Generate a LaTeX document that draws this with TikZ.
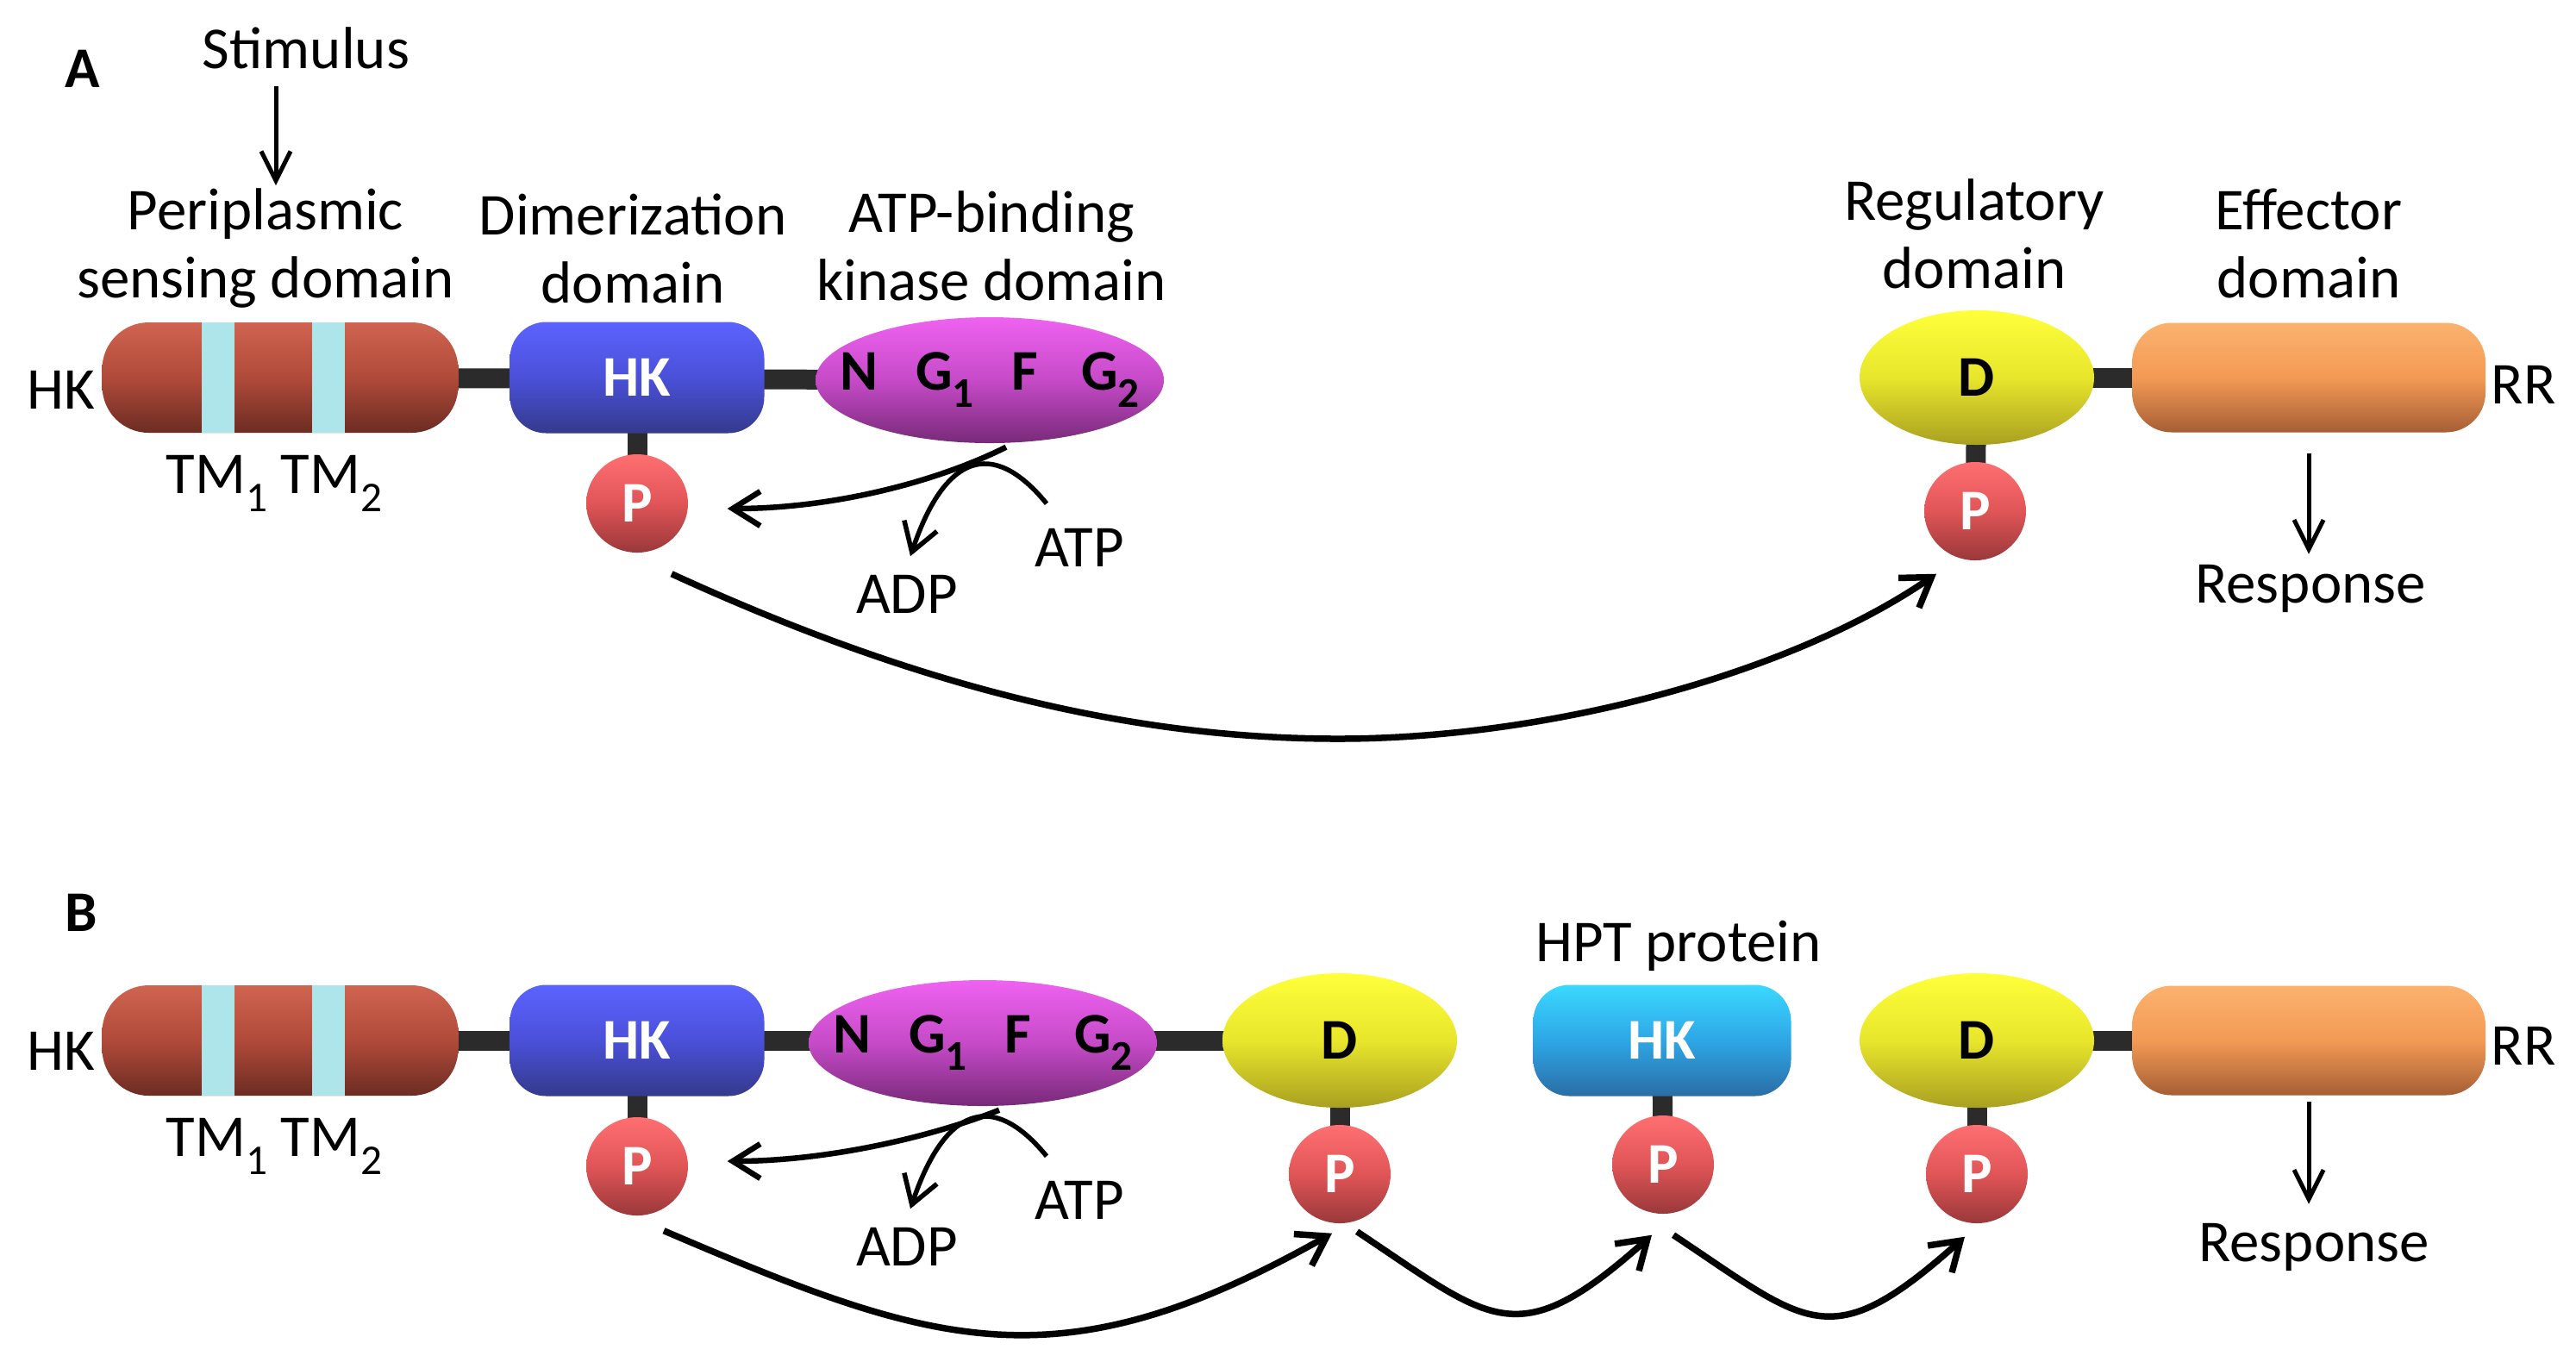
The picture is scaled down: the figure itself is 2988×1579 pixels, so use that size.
\documentclass[tikz,border=0pt]{standalone}
\usepackage{fontspec}
\setmainfont{Carlito}
\usetikzlibrary{arrows.meta,shapes.geometric,backgrounds}

\definecolor{brownTop}{HTML}{CF6450}
\definecolor{brownMid}{HTML}{B04A3A}
\definecolor{brownBot}{HTML}{6C2C22}
\definecolor{blueTop}{HTML}{5C63FF}
\definecolor{blueMid}{HTML}{4A50D8}
\definecolor{blueBot}{HTML}{343A8C}
\definecolor{purpleTop}{HTML}{EE62F0}
\definecolor{purpleMid}{HTML}{C64AC8}
\definecolor{purpleBot}{HTML}{772A78}
\definecolor{yellowTop}{HTML}{FFFF3A}
\definecolor{yellowMid}{HTML}{E8E62C}
\definecolor{yellowBot}{HTML}{A9A020}
\definecolor{orangeTop}{HTML}{FBB26E}
\definecolor{orangeMid}{HTML}{F39A55}
\definecolor{orangeBot}{HTML}{A65E34}
\definecolor{cyanTop}{HTML}{3BD8FF}
\definecolor{cyanMid}{HTML}{2EA6E6}
\definecolor{cyanBot}{HTML}{2A6EA6}
\definecolor{redTop}{HTML}{FF6F72}
\definecolor{redMid}{HTML}{E05557}
\definecolor{redBot}{HTML}{9A383A}
\definecolor{tmcyan}{HTML}{ADE5EA}
\definecolor{linkgray}{HTML}{2B2B2B}

\newcommand{\subidx}[1]{\raisebox{-0.3em}{\fontsize{14}{14}\selectfont #1}}
\newcommand{\motifs}{\makebox[0pt]{N\hspace{4.4mm}G\subidx{1}\hspace{4.4mm}F\hspace{5mm}G\subidx{2}}}

\begin{document}
\begin{tikzpicture}[x=0.1mm,y=-0.1mm,
  lbl/.style={font=\fontsize{19.6}{22.5}\selectfont,align=center,inner sep=0pt},
  tag/.style={font=\fontsize{19}{21}\selectfont\bfseries,inner sep=0pt},
  capsule/.style={rectangle,rounded corners=#1,inner sep=0pt,tag},
  sensor/.style={capsule=5.4mm,minimum width=41.3mm,minimum height=12.8mm,top color=brownTop,bottom color=brownBot,middle color=brownMid},
  dimer/.style={capsule=4.2mm,minimum width=29.5mm,minimum height=12.9mm,top color=blueTop,bottom color=blueBot,middle color=blueMid,text=white},
  kinase/.style={ellipse,minimum width=40.4mm,minimum height=14.6mm,inner sep=0pt,tag,top color=purpleTop,bottom color=purpleBot,middle color=purpleMid},
  receiver/.style={ellipse,minimum width=27.2mm,minimum height=15.6mm,inner sep=0pt,tag,top color=yellowTop,bottom color=yellowBot,middle color=yellowMid},
  effector/.style={capsule=4.6mm,minimum width=41mm,minimum height=12.7mm,top color=orangeTop,bottom color=orangeBot,middle color=orangeMid},
  hpt/.style={capsule=4.2mm,minimum width=29.9mm,minimum height=12.9mm,top color=cyanTop,bottom color=cyanBot,middle color=cyanMid,text=white},
  phos/.style={ellipse,minimum width=11.8mm,minimum height=11.4mm,inner sep=0pt,tag,text=white,top color=redTop,bottom color=redBot,middle color=redMid},
  linker/.style={line width=2.3mm,draw=linkgray},
  flow/.style={line width=0.75mm,-{Straight Barb[length=3.2mm,width=4.2mm]}},
  react/.style={line width=0.65mm,-{Straight Barb[length=3.2mm,width=4mm]}},
  cue/.style={line width=0.5mm,-{Straight Barb[length=3.4mm,width=3.4mm]}}]
  \pgfmathsetmacro{\rowA}{438}
  \pgfmathsetmacro{\rowB}{1207}
  \useasboundingbox (0,0) rectangle (2988,1579);

  % panel A
  \node[tag] (panA) at (96,80) {A};
  \node[lbl] (stim) at (355,56) {Stimulus};
  \node[lbl] (periLbl) at (308,288) {Periplasmic\\sensing domain};
  \node[lbl] (dimerLbl) at (734,288) {Dimerization\\domain};
  \node[lbl] (kinLbl) at (1150,285) {ATP-binding\\kinase domain};
  \node[lbl] (regLbl) at (2290,271) {Regulatory\\domain};
  \node[lbl] (effLbl) at (2678,282) {Effector\\domain};

  \node[lbl] (hkA) at (71,\rowA+14) {HK};
  \node[sensor] (senseA) at (325,\rowA) {};
  \node[dimer] (dimerA) at (739,\rowA) {HK};
  \node[kinase] (kinA) at (1148,\rowA+3) {\motifs};
  \node[phos] (pA1) at (739,\rowA+146) {P};
  \node[lbl] (tmA) at (318,\rowA+123) {TM\subidx{1} TM\subidx{2}};
  \node[receiver] (recA) at (2293,\rowA) {D};
  \node[effector] (effA) at (2678,\rowA) {};
  \node[lbl] (rrA) at (2927,\rowA+8) {RR};
  \node[phos] (pA2) at (2291,\rowA+155) {P};
  \node[lbl] (respA) at (2680,\rowA+245) {Response};

  % panel B
  \node[tag] (panB) at (94,1059) {B};
  \node[lbl] (hptLbl) at (1947,1097) {HPT protein};

  \node[lbl] (hkB) at (71,\rowB+12) {HK};
  \node[sensor] (senseB) at (325,\rowB) {};
  \node[dimer] (dimerB) at (739,\rowB) {HK};
  \node[kinase] (kinB) at (1140,\rowB+3) {\motifs};
  \node[phos] (pB1) at (739,\rowB+146) {P};
  \node[lbl] (tmB) at (318,\rowB+123) {TM\subidx{1} TM\subidx{2}};
  \node[receiver] (recB1) at (1554,\rowB) {D};
  \node[phos] (pB2) at (1554,\rowB+155) {P};
  \node[hpt] (hptB) at (1928,\rowB) {HK};
  \node[phos] (pB3) at (1929,\rowB+144) {P};
  \node[receiver] (recB2) at (2293,\rowB) {D};
  \node[phos] (pB4) at (2293,\rowB+155) {P};
  \node[effector] (effB) at (2678,\rowB) {};
  \node[lbl] (rrB) at (2927,\rowB+6) {RR};
  \node[lbl] (respB) at (2684,\rowB+240) {Response};

  \foreach \r in {\rowA,\rowB}
    \foreach \s in {253,381}
      \fill[tmcyan] (\s-19,\r-64) rectangle (\s+19,\r+64);

  \begin{scope}[on background layer]
    \fill[white] (0,0) rectangle (2988,1579);
    \draw[linker] (senseA.center) -- (kinA.center);
    \draw[linker] (recA.center) -- (effA.center);
    \draw[linker] (dimerA.center) -- (pA1.center);
    \draw[linker] (recA.center) -- (pA2.center);
    \draw[linker] (senseB.center) -- (recB1.center);
    \draw[linker] (recB2.center) -- (effB.center);
    \draw[linker] (dimerB.center) -- (pB1.center);
    \draw[linker] (recB1.center) -- (pB2.center);
    \draw[linker] (hptB.center) -- (pB3.center);
    \draw[linker] (recB2.center) -- (pB4.center);
  \end{scope}

  % ATP -> ADP on the kinase
  \foreach \n/\r/\d in {A/\rowA/6,B/\rowB/-6} {
    \node[lbl] (atp\n) at (1252,\r+191+\d) {ATP};
    \node[lbl] (adp\n) at (1052,\r+245+\d) {ADP};
    \draw[react] ([shift={(19,4)}]kin\n.south) .. controls (1080,\r+118+\d) and (960,\r+146+\d) .. ([shift={(45,\d)}]p\n1.east);
    \draw[react,line width=0.55mm] ([shift={(-38,-28)}]atp\n.north) .. controls (1150,\r+62+\d) and (1095,\r+85+\d) .. ([shift={(4,-21)}]adp\n.north);
  }

  \coordinate (stimTip) at (320,215);
  \draw[cue,shorten <=1.9mm] (stimTip |- stim.south) -- (stimTip);
  \foreach \n/\s/\e in {A/2.4/1.2,B/0.7/2.2}
    \draw[cue,shorten <=\s mm,shorten >=\e mm] (eff\n.south) -- (eff\n.south |- resp\n.north);

  % phosphoryl transfer
  \draw[flow] ([shift={(40,24)}]pA1.south) .. controls (1050,790) and (1300,857) .. (1552,857)
    .. controls (1800,857) and (2080,780) .. ([shift={(-45,15)}]pA2.south);
  \draw[flow] ([shift={(31,17)}]pB1.south) .. controls (1084,1562) and (1226,1611) .. ([shift={(-9,11)}]pB2.south);
  \draw[flow] ([shift={(20,9)}]pB2.south) .. controls (1731,1533) and (1759,1573) .. ([shift={(-13,24)}]pB3.south);
  \draw[flow] ([shift={(12,24)}]pB3.south) .. controls (2098,1537) and (2122,1575) .. ([shift={(-14,15)}]pB4.south);
\end{tikzpicture}
\end{document}
